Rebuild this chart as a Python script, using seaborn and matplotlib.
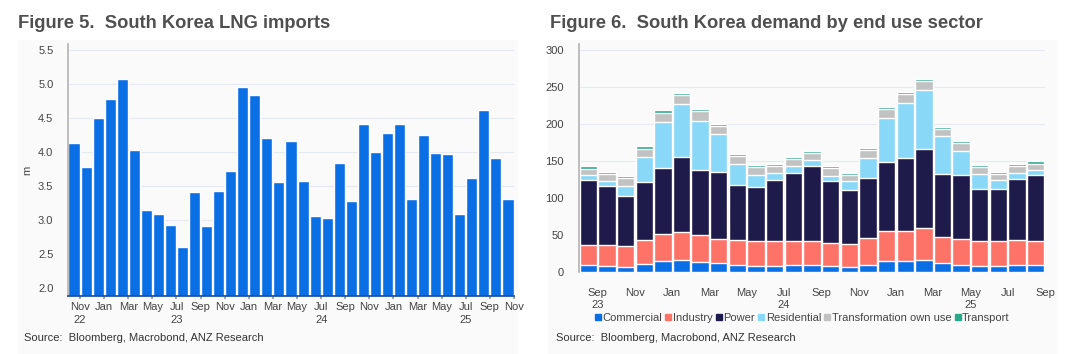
import pandas as pd
import matplotlib
matplotlib.use('Agg')
import matplotlib.pyplot as plt
import matplotlib.patches as mpatches
import seaborn as sns

# Figure 5: monthly LNG imports (m), Oct 2022 - Oct 2025
imp_months = pd.date_range('2022-10-01', '2025-10-01', freq='MS')
imports = [4.13, 3.79, 4.50, 4.78, 5.08, 4.03, 3.15, 3.10, 2.93, 2.61,
           3.41, 2.92, 3.43, 3.72, 4.96, 4.85, 4.21, 3.57, 4.16, 3.58,
           3.07, 3.04, 3.85, 3.28, 4.41, 4.01, 4.28, 4.42, 3.31, 4.25,
           3.99, 3.97, 3.09, 3.62, 4.62, 3.91, 3.31]

# Figure 6: demand by end use sector, Aug 2023 - Aug 2025
dem_months = pd.date_range('2023-08-01', '2025-08-01', freq='MS')
commercial = [9.5, 8.6, 7.7, 10.8, 14.9, 16.2, 14.0, 12.2, 9.5, 8.1, 9.0, 9.5, 9.5,
              9.0, 7.7, 9.9, 14.9, 15.8, 16.7, 12.2, 9.9, 8.1, 9.0, 9.9, 9.9]
industry = [27.4, 27.9, 27.9, 32.4, 36.9, 37.8, 36.0, 32.4, 34.6, 33.8, 33.3, 32.8, 32.4,
            30.6, 31.0, 36.5, 40.5, 40.5, 43.2, 35.1, 35.6, 33.8, 32.9, 33.3, 32.4]
power = [87.4, 79.7, 67.1, 78.8, 89.6, 101.9, 88.3, 91.0, 73.9, 73.4, 82.0, 91.5, 102.2,
         84.3, 72.6, 80.6, 93.7, 98.7, 106.8, 85.6, 86.0, 71.2, 71.2, 82.5, 88.8]
residential = [7.2, 7.7, 14.0, 33.9, 61.3, 71.6, 66.2, 51.8, 28.8, 16.2, 10.4, 9.9, 7.3,
               6.7, 12.1, 28.0, 59.9, 73.8, 79.7, 51.8, 32.5, 19.8, 12.1, 8.1, 6.7]
transformation = [8.1, 8.5, 10.8, 11.1, 13.1, 12.1, 13.5, 10.3, 10.9, 10.4, 9.4, 9.0, 9.9,
                  10.4, 8.6, 10.3, 11.7, 12.6, 12.6, 9.0, 10.8, 9.0, 7.7, 9.4, 9.0]
transport = [3.6, 3.2, 3.1, 3.3, 3.1, 2.7, 2.3, 2.8, 2.7, 2.7, 2.7, 2.7, 2.2,
             2.2, 2.7, 2.7, 2.7, 2.7, 2.7, 3.1, 2.7, 2.7, 2.7, 2.7, 3.2]

sectors = ['Commercial', 'Industry', 'Power', 'Residential', 'Transformation own use', 'Transport']
colors = ['#0a6fe4', '#fd7368', '#1e1a4a', '#8ad8f7', '#c2c2c2', '#2aa88a']

BLUE = '#0a6fe4'
TXT = '#444444'
W, H = 1067, 354

sns.set_theme(style='white')
plt.rcParams['font.family'] = ['Liberation Sans', 'DejaVu Sans']
plt.rcParams['xtick.labelsize'] = 8
plt.rcParams['ytick.labelsize'] = 8

fig = plt.figure(figsize=(W / 100, H / 100), dpi=100)
fig.patch.set_facecolor('white')
# light panel backgrounds
for x0, x1 in [(18, 518), (548, 1058)]:
    fig.patches.append(mpatches.Rectangle((x0 / W, 0.0), (x1 - x0) / W, 1 - 40 / H,
                                          transform=fig.transFigure, facecolor='#fafafa',
                                          edgecolor='none', zorder=-10))

ax1 = fig.add_axes([68 / W, 1 - 296 / H, (514 - 68) / W, (296 - 44) / H])
ax2 = fig.add_axes([579 / W, 1 - 272.3 / H, (1045 - 579) / W, (272.3 - 44) / H])

# ---- left chart
df1 = pd.DataFrame({'month': imp_months.strftime('%Y-%m'), 'imports': imports})
sns.barplot(data=df1, x='month', y='imports', color=BLUE, saturation=1, width=0.92, ax=ax1)
ax1.set_ylim(1.887, 5.593)
ax1.set_xlim(-0.5, len(imports) - 0.5)
ax1.set_yticks([2.0, 2.5, 3.0, 3.5, 4.0, 4.5, 5.0, 5.5])
ax1.set_yticklabels(['2.0', '2.5', '3.0', '3.5', '4.0', '4.5', '5.0', '5.5'])
ticks1, labs1 = [], []
for i, m in enumerate(imp_months):
    nxt = m + pd.DateOffset(months=1)
    if nxt.month % 2 == 1:
        ticks1.append(i + 0.5)
        lab = nxt.strftime('%b')
        if (nxt.year == 2022 and nxt.month == 11) or (nxt.month == 7):
            lab += '\n' + nxt.strftime('%y')
        labs1.append(lab)
ax1.set_xticks(ticks1)
ax1.set_xticklabels(labs1, linespacing=1.3)
ax1.set_xlabel('')
ax1.set_ylabel('m', color=TXT, fontsize=8, labelpad=4)
ax1.grid(axis='y', color='#e6e9ef', lw=0.8)
ax1.set_axisbelow(True)
ax1.set_facecolor('none')
for s in ['top', 'right']:
    ax1.spines[s].set_visible(False)
ax1.spines['left'].set_color('#b5b5b5')
ax1.spines['bottom'].set_color('#1d4fa0')
ax1.tick_params(axis='x', bottom=True, length=2.5, color='#999999', colors=TXT, pad=2)
ax1.tick_params(axis='y', left=False, colors=TXT, pad=4.5)
fig.text(18 / W, 1 - 23 / H, 'Figure 5.  South Korea LNG imports', fontsize=13.2,
         fontweight='bold', color='#4f4f4f', va='center')
fig.text(24 / W, 1 - 338 / H, 'Source:  Bloomberg, Macrobond, ANZ Research', fontsize=8,
         color='#333333', va='center')

# ---- right chart (stacked by drawing cumulative totals, top layer first)
df2 = pd.DataFrame({'month': dem_months.strftime('%Y-%m'), 'Commercial': commercial,
                    'Industry': industry, 'Power': power, 'Residential': residential,
                    'Transformation own use': transformation, 'Transport': transport})
cum = df2[sectors].cumsum(axis=1)
for sec, col in reversed(list(zip(sectors, colors))):
    sns.barplot(x=df2['month'], y=cum[sec], color=col, saturation=1, width=0.93, ax=ax2)
ax2.set_ylim(0, 308.5)
ax2.set_xlim(-0.5, len(dem_months) - 0.5)
ax2.set_yticks([0, 50, 100, 150, 200, 250, 300])
ticks2, labs2 = [], []
for i, m in enumerate(dem_months):
    nxt = m + pd.DateOffset(months=1)
    if nxt.month % 2 == 1:
        ticks2.append(i + 0.5)
        lab = nxt.strftime('%b')
        if (nxt.year == 2023 and nxt.month == 9) or (nxt.year == 2024 and nxt.month == 7) \
                or (nxt.year == 2025 and nxt.month == 5):
            lab += '\n' + nxt.strftime('%y')
        labs2.append(lab)
ax2.set_xticks(ticks2)
ax2.set_xticklabels(labs2, linespacing=1.3)
ax2.set_xlabel('')
ax2.set_ylabel('')
ax2.grid(axis='y', color='#e6e9ef', lw=0.8)
ax2.set_axisbelow(True)
ax2.set_facecolor('none')
for s in ['top', 'right', 'bottom']:
    ax2.spines[s].set_visible(False)
ax2.spines['left'].set_color('#b5b5b5')
ax2.tick_params(axis='x', bottom=False, colors=TXT, pad=5)
ax2.tick_params(axis='y', left=False, colors=TXT, pad=5)
handles = [mpatches.Patch(color=c, label=s) for s, c in zip(sectors, colors)]
ax2.legend(handles=handles, loc='center', bbox_to_anchor=(0.479, -0.2),
           ncol=6, frameon=False, fontsize=8, handlelength=0.55, handleheight=0.55,
           handletextpad=0.12, columnspacing=0.3, labelcolor=TXT,
           borderpad=0, borderaxespad=0)
fig.text(556 / W, 1 - 338 / H, 'Source:  Bloomberg, Macrobond, ANZ Research', fontsize=8,
         color='#333333', va='center')
fig.text(550 / W, 1 - 23 / H, 'Figure 6.  South Korea demand by end use sector', fontsize=13.2,
         fontweight='bold', color='#4f4f4f', va='center')

fig.savefig('out.png', dpi=100)
